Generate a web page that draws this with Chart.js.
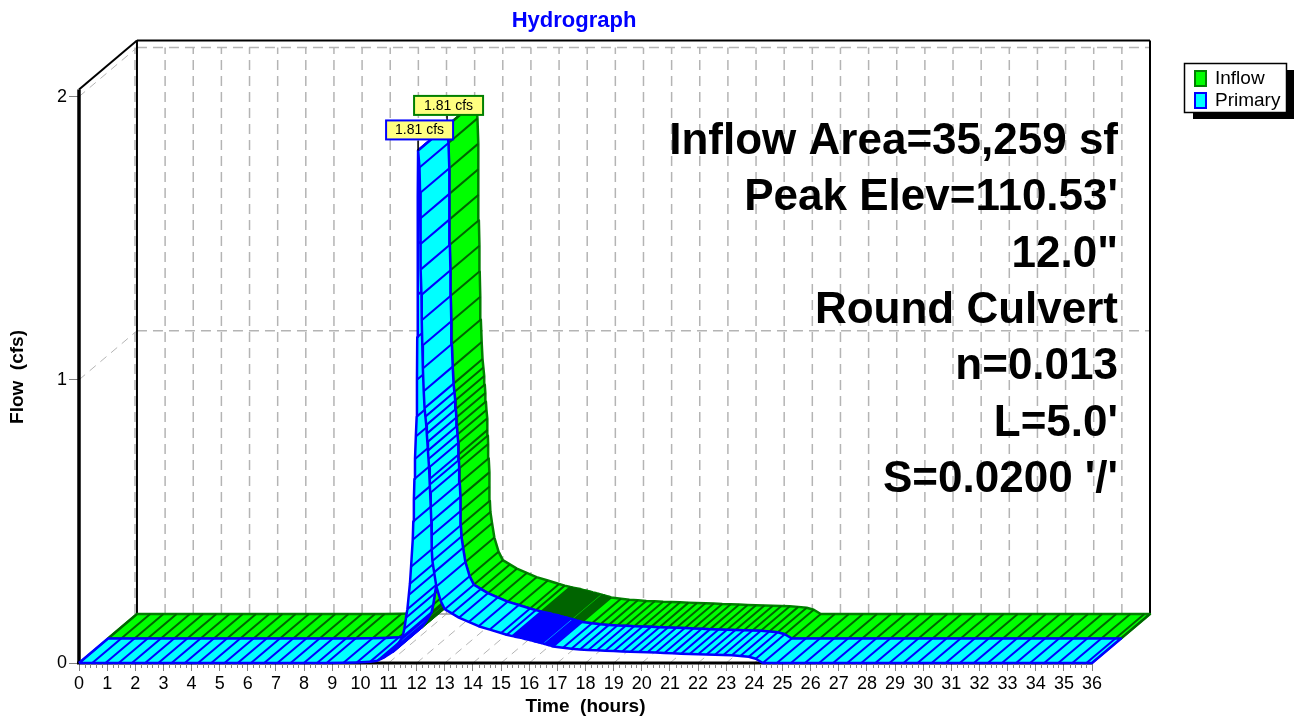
<!DOCTYPE html>
<html>
<head>
<meta charset="utf-8">
<title>Hydrograph</title>
<script src="https://cdn.jsdelivr.net/npm/chart.js@4/dist/chart.umd.js"></script>
<style>
    html, body { margin: 0; padding: 0; background: #fff; }
    canvas { display: block; }
</style>
</head>
<body>
<canvas id="chart" width="1294" height="719"></canvas>
<script>
const chartTitle = 'Hydrograph';
const xTitle = 'Time  (hours)';
const yTitle = 'Flow  (cfs)';
const seriesNames = ['Inflow', 'Primary'];
const peakLabels = ['1.81 cfs', '1.81 cfs'];
const noteLines = ['Inflow Area=35,259 sf', "Peak Elev=110.53'", '12.0"', 'Round Culvert', 'n=0.013', "L=5.0'", "S=0.0200 '/'"];

const hours = [
    0, 0.47, 0.94, 1.41, 1.88, 2.35, 2.82, 3.29, 3.76, 4.23, 4.7, 5.17, 5.64, 6.11, 6.58, 7.05, 7.52, 7.99, 8.46, 8.8,
    9.4, 9.87, 10.34, 10.6, 10.85, 11, 11.15, 11.3, 11.42, 11.5, 11.56, 11.62, 11.67, 11.72, 11.76, 11.8, 11.86,
    11.88, 11.9, 11.92, 11.94, 11.97, 12, 12.01, 12.02, 12.03, 12.04, 12.045, 12.05,
    12.1, 12.12, 12.13, 12.14, 12.15, 12.17, 12.18, 12.2, 12.22, 12.25, 12.28, 12.31, 12.34, 12.36, 12.38, 12.4,
    12.42, 12.44, 12.46, 12.47, 12.48, 12.5, 12.52, 12.53, 12.54, 12.56, 12.62, 12.7, 12.85, 13, 13.25, 13.5, 13.85,
    14.2, 14.6, 15, 15.2,
    15.4, 15.45, 15.5, 15.55, 15.6, 15.65, 15.7, 15.75, 15.8, 15.85, 15.9, 15.95, 16, 16.05, 16.1, 16.15, 16.2, 16.25,
    16.3, 16.35, 16.4, 16.45, 16.55, 16.6, 16.65, 16.7, 16.75, 16.8, 16.85,
    17.2, 17.5, 17.8, 18.1, 18.4, 18.7, 19, 19.3, 19.6, 19.9, 20.2, 20.5, 20.8, 21.1, 21.4, 21.7, 22, 22.3, 22.6, 22.9,
    23.2, 23.5, 23.8, 24.05, 24.3,
    24.8, 25.3, 25.8, 26.3, 26.8, 27.3, 27.8, 28.3, 28.8, 29.3, 29.8, 30.3, 30.8, 31.3, 31.8, 32.3, 32.8, 33.3, 33.8,
    34.3, 34.8, 35.3, 35.8, 36
];
const inflow = [
    0, 0, 0, 0, 0, 0, 0, 0, 0, 0, 0, 0, 0, 0, 0, 0, 0, 0, 0, 0,
    0.001, 0.002, 0.004, 0.008, 0.02, 0.03, 0.04, 0.06, 0.08, 0.093, 0.12, 0.16, 0.19, 0.24, 0.28, 0.34, 0.435,
    0.5, 0.576, 0.65, 0.72, 0.8, 0.87, 1, 1.15, 1.3, 1.48, 1.65, 1.81,
    1.75, 1.66, 1.57, 1.48, 1.39, 1.3, 1.21, 1.12, 1.04, 0.96, 0.9, 0.87, 0.84, 0.81, 0.78, 0.75,
    0.72, 0.69, 0.65, 0.63, 0.6, 0.55, 0.5, 0.45, 0.4, 0.36, 0.32, 0.27, 0.22, 0.19, 0.175, 0.16, 0.145,
    0.13, 0.118, 0.106, 0.1,
    0.095, 0.094, 0.093, 0.092, 0.091, 0.09, 0.089, 0.088, 0.086, 0.085, 0.084, 0.083, 0.082, 0.08, 0.079, 0.078, 0.076, 0.075,
    0.074, 0.072, 0.071, 0.07, 0.067, 0.066, 0.064, 0.063, 0.062, 0.06, 0.058,
    0.054, 0.05, 0.048, 0.046, 0.045, 0.043, 0.042, 0.041, 0.04, 0.039, 0.038, 0.037, 0.035, 0.034, 0.033, 0.032, 0.031, 0.03, 0.029, 0.028,
    0.027, 0.025, 0.022, 0.015, 0,
    0, 0, 0, 0, 0, 0, 0, 0, 0, 0, 0, 0, 0, 0, 0, 0, 0, 0, 0,
    0, 0, 0, 0, 0
];
const primary = [
    0, 0, 0, 0, 0, 0, 0, 0, 0, 0, 0, 0, 0, 0, 0, 0, 0, 0, 0, 0,
    0.001, 0.002, 0.004, 0.008, 0.02, 0.03, 0.04, 0.06, 0.08, 0.093, 0.12, 0.16, 0.19, 0.24, 0.28, 0.34, 0.435,
    0.5, 0.576, 0.65, 0.72, 0.8, 0.87, 1, 1.15, 1.3, 1.48, 1.65, 1.81,
    1.75, 1.66, 1.57, 1.48, 1.39, 1.3, 1.21, 1.12, 1.04, 0.96, 0.9, 0.87, 0.84, 0.81, 0.78, 0.75,
    0.72, 0.69, 0.65, 0.63, 0.6, 0.55, 0.5, 0.45, 0.4, 0.36, 0.32, 0.27, 0.22, 0.19, 0.175, 0.16, 0.145,
    0.13, 0.118, 0.106, 0.1,
    0.095, 0.094, 0.093, 0.092, 0.091, 0.09, 0.089, 0.088, 0.086, 0.085, 0.084, 0.083, 0.082, 0.08, 0.079, 0.078, 0.076, 0.075,
    0.074, 0.072, 0.071, 0.07, 0.067, 0.066, 0.064, 0.063, 0.062, 0.06, 0.058,
    0.054, 0.05, 0.048, 0.046, 0.045, 0.043, 0.042, 0.041, 0.04, 0.039, 0.038, 0.037, 0.035, 0.034, 0.033, 0.032, 0.031, 0.03, 0.029, 0.028,
    0.027, 0.025, 0.022, 0.015, 0,
    0, 0, 0, 0, 0, 0, 0, 0, 0, 0, 0, 0, 0, 0, 0, 0, 0, 0, 0,
    0, 0, 0, 0, 0
];
const tickHours = 36;

// each series is an oblique strip, one lane deep, shifted right and up in data units
const depthX = 1.03;
const depthY = 0.0866;
const wallLane = 2;
const frontTop = 2.025;

const inflowStyle = { fill: '#00ff00', edge: '#008000', hatch: '#006400' };
const primaryStyle = { fill: '#00ffff', edge: '#0000ff', hatch: '#0000ff' };
const font = '"Liberation Sans", Arial, sans-serif';

const lanePoint = (i, values, lane) => ({ x: hours[i] + lane * depthX, y: values[i] + lane * depthY });

function ribbonDatasets(values, lane, style) {
    // rising flank has the opposite winding, so it gets its own polygon
    const peak = values.indexOf(Math.max(...values));
    const riseStart = hours.indexOf(11.15);
    const sections = [[0, riseStart], [riseStart, peak], [peak, hours.length - 1]];
    const sets = [];
    sections.forEach(([from, to]) => {
        const outline = [];
        const hatch = [];
        for (let i = from; i <= to; i++) outline.push(lanePoint(i, values, lane));
        for (let i = to; i >= from; i--) outline.push(lanePoint(i, values, lane + 1));
        outline.push(outline[0]);
        for (let i = from; i <= to; i++) {
            hatch.push(lanePoint(i, values, lane), lanePoint(i, values, lane + 1), { x: null, y: null });
        }
        sets.push({
            data: outline, showLine: true, pointRadius: 0, fill: 'shape',
            backgroundColor: style.fill, borderColor: style.edge, borderWidth: 2.5, borderJoinStyle: 'round',
        });
        sets.push({
            data: hatch, showLine: true, pointRadius: 0, fill: false, spanGaps: false,
            borderColor: style.hatch, borderWidth: 2,
        });
    });
    return sets;
}

const datasets = [...ribbonDatasets(inflow, 1, inflowStyle), ...ribbonDatasets(primary, 0, primaryStyle)];
datasets.forEach((d, i) => { d.order = datasets.length - i; d.clip = false; });

function line(ctx, x1, y1, x2, y2) {
    ctx.beginPath();
    ctx.moveTo(x1, y1);
    ctx.lineTo(x2, y2);
    ctx.stroke();
}

const wallPlugin = {
    id: 'wall',
    beforeDatasetsDraw(chart) {
        const { ctx, scales: { x, y } } = chart;
        const px = (t, lane) => x.getPixelForValue(t + lane * depthX);
        const py = (q, lane) => y.getPixelForValue(q + lane * depthY);
        ctx.save();
        // dashed grid on back wall, floor and left wall
        ctx.strokeStyle = '#b4b4b4';
        ctx.lineWidth = 1.5;
        ctx.setLineDash([10, 6]);
        for (let t = 0; t <= tickHours; t++) {
            line(ctx, px(t, wallLane) - (t === 0 ? 2 : 0), py(0, wallLane), px(t, wallLane) - (t === 0 ? 2 : 0), py(2, wallLane));
        }
        [1, 2].forEach(q => line(ctx, px(0, wallLane), py(q, wallLane), px(tickHours, wallLane), py(q, wallLane)));
        ctx.lineWidth = 1;
        ctx.setLineDash([8, 6]);
        [1, 2].forEach(q => line(ctx, px(0, 0), py(q, 0), px(0, wallLane), py(q, wallLane)));
        for (let t = 1; t <= tickHours; t++) line(ctx, px(t, 0), py(0, 0), px(t, wallLane), py(0, wallLane));
        ctx.setLineDash([]);
        ctx.strokeStyle = '#9a9a9a';
        ctx.lineWidth = 1.5;
        line(ctx, px(0, wallLane), py(0, wallLane), px(tickHours, wallLane), py(0, wallLane));
        // frame
        ctx.strokeStyle = '#000';
        ctx.lineWidth = 2;
        line(ctx, px(0, wallLane), py(0, wallLane), px(0, wallLane), py(frontTop, wallLane));
        line(ctx, px(0, wallLane), py(frontTop, wallLane), px(tickHours, wallLane), py(frontTop, wallLane));
        line(ctx, px(tickHours, wallLane), py(frontTop, wallLane), px(tickHours, wallLane), py(0, wallLane));
        line(ctx, px(0, 0), py(frontTop, 0), px(0, wallLane), py(frontTop, wallLane));
        ctx.lineWidth = 3.5;
        line(ctx, px(0, 0), py(0, 0), px(0, 0), py(frontTop, 0));
        ctx.lineWidth = 3;
        line(ctx, px(0, 0) - 2, py(0, 0), px(tickHours, 0), py(0, 0));
        ctx.restore();
    },
    afterDatasetsDraw(chart) {
        const { ctx, scales: { x, y } } = chart;
        ctx.save();
        // minor ticks under the time axis
        ctx.strokeStyle = '#808080';
        ctx.lineWidth = 1;
        for (let t = 0; t < tickHours; t++) {
            for (let m = 1; m < 5; m++) {
                const mx = Math.round(x.getPixelForValue(t + m / 5)) + 0.5;
                line(ctx, mx, y.bottom + 1, mx, y.bottom + 5);
            }
        }

        // peak flags
        const flags = [
            { values: inflow, lane: 1, style: inflowStyle, left: 33, right: 36 },
            { values: primary, lane: 0, style: primaryStyle, left: 32, right: 35 },
        ];
        flags.forEach((f, n) => {
            const i = f.values.indexOf(Math.max(...f.values));
            const p = lanePoint(i, f.values, f.lane);
            const fx = x.getPixelForValue(p.x);
            const fy = y.getPixelForValue(p.y);
            ctx.strokeStyle = '#000';
            ctx.lineWidth = 1.5;
            line(ctx, fx, fy - 10, fx, fy);
            ctx.fillStyle = '#ffff80';
            ctx.strokeStyle = f.style.edge;
            ctx.lineWidth = 2;
            ctx.fillRect(fx - f.left, fy - 30, f.left + f.right, 19);
            ctx.strokeRect(fx - f.left, fy - 30, f.left + f.right, 19);
            ctx.fillStyle = '#000';
            ctx.font = '14px ' + font;
            ctx.textAlign = 'center';
            ctx.textBaseline = 'middle';
            ctx.fillText(peakLabels[n], fx + (f.right - f.left) / 2, fy - 20);
        });

        // notes on the right side
        ctx.fillStyle = '#000';
        ctx.font = 'bold 44px ' + font;
        ctx.textAlign = 'right';
        ctx.textBaseline = 'alphabetic';
        noteLines.forEach((t, i) => ctx.fillText(t, 1118, 154 + i * 56.3));

        // titles
        ctx.textAlign = 'center';
        ctx.textBaseline = 'middle';
        ctx.fillStyle = '#0000ff';
        ctx.font = 'bold 22px ' + font;
        ctx.fillText(chartTitle, 574, 21);
        ctx.fillStyle = '#000';
        ctx.font = 'bold 19px ' + font;
        ctx.fillText(xTitle, x.getPixelForValue(tickHours / 2), 707);
        ctx.save();
        ctx.translate(18, 377);
        ctx.rotate(-Math.PI / 2);
        ctx.fillText(yTitle, 0, 0);
        ctx.restore();

        // legend box with hard shadow
        ctx.fillStyle = '#000';
        ctx.fillRect(1193, 70, 101, 49);
        ctx.fillStyle = '#fff';
        ctx.fillRect(1184, 63, 103, 50);
        ctx.strokeStyle = '#000';
        ctx.lineWidth = 1.5;
        ctx.strokeRect(1184.5, 63.5, 102, 49);
        [inflowStyle, primaryStyle].forEach((s, i) => {
            const top = 71 + i * 22;
            ctx.fillStyle = s.fill;
            ctx.strokeStyle = s.edge;
            ctx.lineWidth = 2;
            ctx.fillRect(1195, top, 11, 15);
            ctx.strokeRect(1195, top, 11, 15);
            ctx.fillStyle = '#000';
            ctx.font = '19px ' + font;
            ctx.textAlign = 'left';
            ctx.fillText(seriesNames[i], 1215, top + 8);
        });
        ctx.restore();
    },
};

new Chart(document.getElementById('chart'), {
    type: 'scatter',
    data: { datasets },
    options: {
        responsive: false,
        animation: false,
        layout: { padding: { top: 40, right: 144, left: 0, bottom: 0 } },
        plugins: { legend: { display: false }, tooltip: { enabled: false }, title: { display: false } },
        scales: {
            x: {
                type: 'linear',
                min: 0,
                max: tickHours + wallLane * depthX,
                afterBuildTicks(s) { s.ticks = s.ticks.filter(t => t.value <= tickHours); },
                afterFit(s) { s.height = 56; },
                border: { display: false },
                grid: { drawOnChartArea: false, drawTicks: true, tickLength: 8, color: '#808080', tickWidth: 1 },
                ticks: {
                    stepSize: 1, includeBounds: false, autoSkip: false, maxRotation: 0, padding: 2,
                    color: '#000', font: { family: font, size: 18 },
                },
            },
            y: {
                type: 'linear',
                min: 0,
                max: 2.2,
                afterFit(s) { s.width = 79; },
                border: { display: false },
                grid: { drawOnChartArea: false, drawTicks: true, tickLength: 10, color: '#808080', tickWidth: 1 },
                ticks: {
                    stepSize: 1, includeBounds: false, padding: 2,
                    color: '#000', font: { family: font, size: 18 },
                },
            },
        },
    },
    plugins: [wallPlugin],
});
</script>
</body>
</html>
